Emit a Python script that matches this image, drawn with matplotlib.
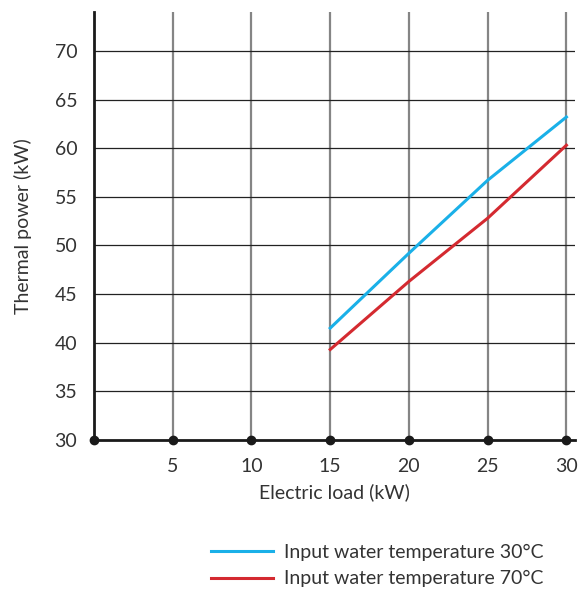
import matplotlib.pyplot as plt

plt.rcParams['font.family'] = ['Lato', 'DejaVu Sans']

# electric load (kW)
load = [15, 20, 25, 30]
# thermal power (kW) for the two inlet water temperatures
power_30 = [41.5, 49.2, 56.7, 63.2]
power_70 = [39.3, 46.3, 52.8, 60.3]

x_ticks = [0, 5, 10, 15, 20, 25, 30]
y_ticks = [30, 35, 40, 45, 50, 55, 60, 65, 70]

fig = plt.figure(figsize=(5.81, 5.92), dpi=100)
ax = fig.add_axes([0.1618, 0.2568, 0.828, 0.723])

ax.set_xlim(0, 30.55)
ax.set_ylim(30, 74)

# grid: grey verticals, thin black horizontals
for xv in x_ticks[1:]:
    ax.axvline(xv, color='#858585', lw=1.6, zorder=1)
for yv in y_ticks[1:]:
    ax.axhline(yv, color='#222222', lw=0.9, zorder=1)

ax.plot(load, power_30, color='#1ab0e8', lw=2.2, zorder=3,
        label='Input water temperature 30°C')
ax.plot(load, power_70, color='#d42a30', lw=2.2, zorder=3,
        label='Input water temperature 70°C')

# bottom axis with dots at ticks
ax.plot(x_ticks, [30] * len(x_ticks), 'o', color='#1a1a1a', ms=6,
        clip_on=False, zorder=5)

for s in ['top', 'right']:
    ax.spines[s].set_visible(False)
ax.spines['left'].set_linewidth(2)
ax.spines['bottom'].set_linewidth(2)
ax.spines['left'].set_color('#1a1a1a')
ax.spines['bottom'].set_color('#1a1a1a')

ax.set_xticks(x_ticks[1:])
ax.set_xticklabels([str(v) for v in x_ticks[1:]])
ax.set_yticks(y_ticks)
ax.set_yticklabels([str(v) for v in y_ticks])
ax.tick_params(length=0, labelsize=14, colors='#333333')
ax.tick_params(axis='x', pad=13)
ax.tick_params(axis='y', pad=12)

ax.set_xlabel('Electric load (kW)', fontsize=14, color='#333333', labelpad=6)
ax.set_ylabel('Thermal power (kW)', fontsize=14, color='#333333', labelpad=16)

fig.legend(loc='upper left', bbox_to_anchor=(0.35, 0.095), frameon=False,
           fontsize=14, handlelength=3.2, handletextpad=0.55,
           labelspacing=0.5, borderaxespad=0, labelcolor='#333333')

fig.savefig('out.png', dpi=100)
